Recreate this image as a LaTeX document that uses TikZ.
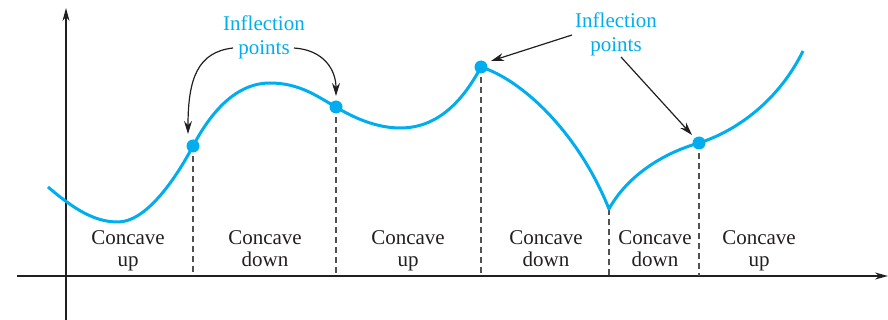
\documentclass[tikz,border=0pt]{standalone}
\usepackage{fontspec}
\setmainfont{Liberation Serif}
\usetikzlibrary{arrows.meta}
\definecolor{curvecol}{RGB}{0,174,239}
\definecolor{inkcol}{RGB}{35,31,32}
\definecolor{dashcol}{RGB}{80,80,80}
\begin{document}
\begin{tikzpicture}[x=1pt,y=-1pt,
  axis/.style={draw=inkcol,line width=1.2pt,-{Stealth[length=13pt,width=7pt]}},
  guide/.style={draw=dashcol,line width=1.5pt,dash pattern=on 6pt off 4pt},
  curve/.style={draw=curvecol,line width=3pt,line join=round},
  dot/.style={circle,fill=curvecol,inner sep=0pt,minimum size=13pt},
  pointer/.style={draw=inkcol,line width=1.2pt,-{Stealth[length=13pt,width=8pt]}},
  lbl/.style={text=inkcol,font=\fontsize{21}{22}\selectfont,align=center,anchor=base,inner sep=0pt},
  infl/.style={text=curvecol,font=\fontsize{21}{24}\selectfont,align=center,anchor=base,inner sep=0pt}]
\useasboundingbox (0,0) rectangle (888,320);
% axes
\coordinate (xs) at (17,276);
\coordinate (xe) at (888,276);
\coordinate (ys) at (66,320);
\coordinate (ye) at (66,8);
\draw[axis] (xs) -- (xe);
\draw[axis] (ys) -- (ye);
% key points
\coordinate (p0) at (48,187);
\coordinate (m1) at (118,222);
\coordinate (i1) at (193,146);
\coordinate (t1) at (270,83);
\coordinate (i2) at (336,107);
\coordinate (m2) at (400,128);
\coordinate (i3) at (481,67);
\coordinate (c1) at (609,209);
\coordinate (i4) at (699,143);
\coordinate (p9) at (803,51);
% base points on axis
\coordinate (b1) at (193,276);
\coordinate (b2) at (336,276);
\coordinate (b3) at (481,276);
\coordinate (b4) at (609,276);
\coordinate (b5) at (699,276);
% dashed guides
\draw[guide] (i1) -- (b1);
\draw[guide] (i2) -- (b2);
\draw[guide] (i3) -- (b3);
\draw[guide] (c1) -- (b4);
\draw[guide] (i4) -- (b5);
% curve
\draw[curve] (p0) .. controls (75,210) and (95,222) .. (m1)
  .. controls (145,222) and (174,182) .. (i1)
  .. controls (211,112) and (236,83) .. (t1)
  .. controls (300,83) and (318,97) .. (i2)
  .. controls (352,117) and (376,128) .. (m2)
  .. controls (436,128) and (461,104) .. (i3)
  .. controls (522,80) and (578,132) .. (c1)
  .. controls (626,178) and (660,154) .. (i4)
  .. controls (742,129) and (781,96) .. (p9);
% dots
\node[dot] (d1) at (i1) {};
\node[dot] (d2) at (i2) {};
\node[dot] (d3) at (i3) {};
\node[dot] (d4) at (i4) {};
% labels
\node[infl] (L1) at (264,55) {Inflection\\points};
\node[infl] (L2) at (616,52) {Inflection\\points};
\coordinate (a1s) at (233,48);
\coordinate (a1e) at (188,134);
\coordinate (a2s) at (294,48);
\coordinate (a2e) at (336,96);
\coordinate (a3s) at (572,35);
\coordinate (a3e) at (491,61);
\coordinate (a4s) at (621,57);
\coordinate (a4e) at (692,135);
\draw[pointer] (a1s) .. controls (198,52) and (188,78) .. (a1e);
\draw[pointer] (a2s) .. controls (324,50) and (336,70) .. (a2e);
\draw[pointer] (a3s) -- (a3e);
\draw[pointer] (a4s) -- (a4e);
% concavity labels
\node[lbl] (r1) at (128,266) {Concave\\up};
\node[lbl] (r2) at (265,266) {Concave\\down};
\node[lbl] (r3) at (408,266) {Concave\\up};
\node[lbl] (r4) at (546,266) {Concave\\down};
\node[lbl] (r5) at (655,266) {Concave\\down};
\node[lbl] (r6) at (759,266) {Concave\\up};
\end{tikzpicture}
\end{document}
